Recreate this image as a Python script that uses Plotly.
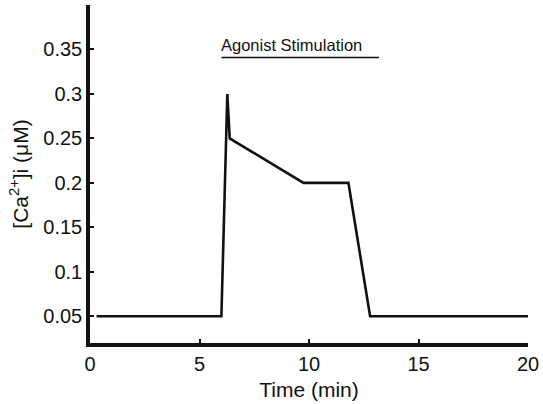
import plotly.graph_objects as go

# Data
time_min = [0.3, 6.0, 6.27, 6.38, 9.75, 11.8, 12.79, 20.0]
ca_uM = [0.05, 0.05, 0.30, 0.25, 0.20, 0.20, 0.05, 0.05]

stim_x = [6.0, 13.2]
stim_y = [0.341, 0.341]
stim_label = "Agonist Stimulation"

x_ticks = [0, 5, 10, 15, 20]
y_ticks = [0.05, 0.1, 0.15, 0.2, 0.25, 0.3, 0.35]
y_tick_text = ["0.05", "0.1", "0.15", "0.2", "0.25", "0.3", "0.35"]

FONT = "Liberation Sans, Arial, sans-serif"

fig = go.Figure()
fig.add_trace(go.Scatter(x=time_min, y=ca_uM, mode="lines",
                         line=dict(color="#111111", width=2.6),
                         showlegend=False, hoverinfo="skip"))
fig.add_trace(go.Scatter(x=stim_x, y=stim_y, mode="lines",
                         line=dict(color="#111111", width=1.6),
                         showlegend=False, hoverinfo="skip"))

fig.add_annotation(x=stim_x[0], y=stim_y[0], xref="x", yref="y",
                   text=stim_label, showarrow=False,
                   xanchor="left", yanchor="bottom", yshift=1, xshift=-2,
                   font=dict(family=FONT, size=16.5, color="#111111"))

fig.update_xaxes(range=[0, 20], tickvals=x_ticks, ticktext=[str(v) for v in x_ticks],
                 showgrid=False, zeroline=False, automargin=False,
                 showline=True, linecolor="#111111", linewidth=3.5,
                 ticks="inside", ticklen=4, tickwidth=1.5, tickcolor="#111111",
                 tickfont=dict(family=FONT, size=20, color="#111111"),
                 title=dict(text="Time (min)", font=dict(family=FONT, size=21, color="#111111"),
                            standoff=10))
fig.update_yaxes(range=[0.02, 0.40], tickvals=y_ticks, ticktext=y_tick_text,
                 showgrid=False, zeroline=False, automargin=False,
                 showline=True, linecolor="#111111", linewidth=3.5,
                 ticks="inside", ticklen=4, tickwidth=1.5, tickcolor="#111111",
                 tickfont=dict(family=FONT, size=20, color="#111111"),
                 title=dict(text="[Ca<sup>2+</sup>]i (μM)", font=dict(family=FONT, size=21, color="#111111"),
                            standoff=10))

fig.update_layout(width=543, height=404,
                  margin=dict(l=90, r=15, t=5, b=61),
                  plot_bgcolor="white", paper_bgcolor="white")

fig.write_html("out.html", config={"displayModeBar": False},
               post_script="document.body.style.margin='0';document.body.style.padding='0';document.body.style.overflow='hidden';")
